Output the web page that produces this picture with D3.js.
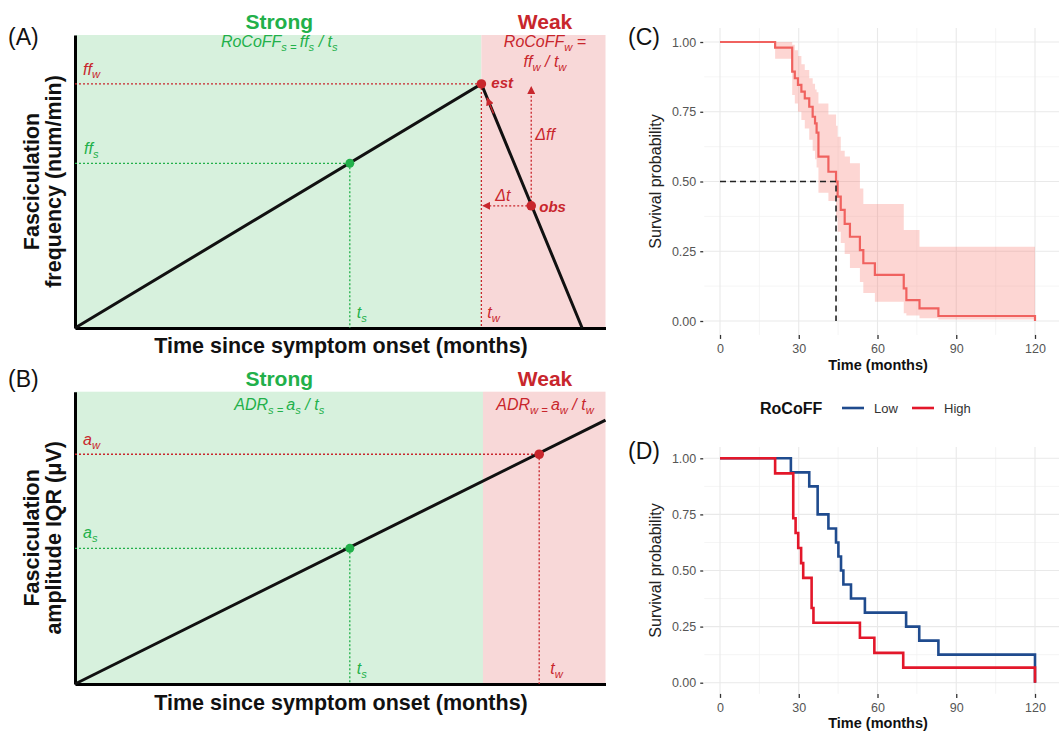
<!DOCTYPE html>
<html>
<head>
<meta charset="utf-8">
<script src="https://cdn.jsdelivr.net/npm/d3@7"></script>
<style>
  body { margin: 0; background: #fff; }
  svg { display: block; font-family: "Liberation Sans", Arial, sans-serif; }
</style>
</head>
<body>
<div id="chart"></div>
<script>
// ---- schematic panels (arbitrary units, 0-100 on both axes) ----
// onset, strong point (ts, ffs), estimated weak point (tw, ffw), observed point, end of decline
const freqTime = [0, 51.8, 76.6, 86.0, 95.6];
const freqValue = [0, 56.2, 83.3, 41.7, 0];
const freqWeakStart = 76.6;

// onset, strong point (ts, as), weak point (tw, aw), right end of line
const ampTime = [0, 51.8, 87.5, 100];
const ampValue = [0, 46.4, 78.6, 90.3];
const ampWeakStart = 76.9;

// ---- panel C: overall Kaplan-Meier curve with 95% band ----
const cTime  = [0, 21, 27.5, 28.5, 29.7, 31, 32.3, 34, 35.3, 36.2, 36.8, 37.5, 41.3, 44.2, 44.8, 46, 47.5, 49.5, 53.3, 54.6, 59, 70, 71, 76, 83.2, 120];
const cSurv  = [1, .98, .894, .87, .846, .822, .798, .768, .732, .708, .675, .589, .535, .50, .446, .398, .348, .302, .254, .207, .165, .117, .075, .045, .018, 0];
const cUpper = [1, 1, .99, .97, .95, .92, .90, .87, .85, .83, .82, .78, .74, .70, .66, .61, .59, .565, .475, .419, .419, .326, .326, .266, .266, .266];
const cLower = [1, .94, .81, .78, .75, .72, .69, .65, .61, .58, .55, .46, .43, .37, .32, .28, .24, .19, .14, .10, .069, .028, .02, .01, .005, 0];
const cMedian = 44.2;

// ---- panel D: Kaplan-Meier by RoCoFF group ----
const lowTime  = [0, 27, 34, 37.2, 41.3, 44.2, 45.1, 46.1, 47, 49.9, 55.2, 70.9, 75.9, 83.2, 120];
const lowSurv  = [1, .9375, .875, .75, .6875, .625, .5625, .5, .4375, .375, .3125, .25, .1875, .125, 0];
const highTime = [0, 21, 27.9, 28.8, 29.8, 30.9, 31.7, 34.9, 35.6, 53.3, 58.8, 69.8, 120];
const highSurv = [1, .933, .733, .667, .6, .533, .467, .333, .267, .2, .133, .067, 0];

const timeTicks = [0, 30, 60, 90, 120];
const timeMinor = [15, 45, 75, 105];
const survTicks = [0, .25, .5, .75, 1];
const survMinor = [.125, .375, .625, .875];

const GREEN = "#22b04a", RED = "#c8262c";
const GREEN_BG = "#d7f1dd", RED_BG = "#f8d8d8";
const KM_SALMON = "#f0625f", LOW_BLUE = "#1f4b8e", HIGH_RED = "#e3172a";

const svg = d3.select("#chart").append("svg")
    .attr("width", 1059).attr("height", 733);

const defs = svg.append("defs");
defs.append("marker")
    .attr("id", "arrRed").attr("viewBox", "0 0 10 10")
    .attr("refX", 9).attr("refY", 5)
    .attr("markerUnits", "userSpaceOnUse")
    .attr("markerWidth", 8).attr("markerHeight", 8)
    .attr("orient", "auto")
  .append("path").attr("d", "M0,0 L10,5 L0,10 z").attr("fill", RED);

// text with subscript parts: [[text, isSub], ...]
function richText(sel, x, y, parts, attrs) {
    const t = sel.append("text").attr("x", x).attr("y", y);
    Object.entries(attrs || {}).forEach(([k, v]) => t.attr(k, v));
    let shifted = 0;
    parts.forEach(([str, sub]) => {
        const ts = t.append("tspan").text(str);
        const want = sub ? 3.5 : 0;
        if (want !== shifted) { ts.attr("dy", want - shifted); shifted = want; }
        if (sub) ts.attr("font-size", "0.7em");
    });
    return t;
}

function panelLetter(x, y, s) {
    svg.append("text").attr("x", x).attr("y", y)
        .attr("font-size", 23).attr("fill", "#111").text(s);
}

// ================= schematic panel builder =================
function schematic(opts) {
    const g = svg.append("g");
    const x = d3.scaleLinear().domain([0, 100]).range([75, 605.5]);
    const y = d3.scaleLinear().domain([0, 100]).range(opts.yRange);

    g.append("rect").attr("x", x(0)).attr("y", y(100))
        .attr("width", x(opts.weakStart) - x(0)).attr("height", y(0) - y(100))
        .attr("fill", GREEN_BG);
    g.append("rect").attr("x", x(opts.weakStart)).attr("y", y(100))
        .attr("width", x(100) - x(opts.weakStart)).attr("height", y(0) - y(100))
        .attr("fill", RED_BG);

    // headings
    g.append("text").attr("x", x(38.5)).attr("y", y(100) - 6)
        .attr("text-anchor", "middle").attr("font-size", 21).attr("font-weight", "bold")
        .attr("fill", GREEN).text("Strong");
    g.append("text").attr("x", x(88.6)).attr("y", y(100) - 6)
        .attr("text-anchor", "middle").attr("font-size", 21).attr("font-weight", "bold")
        .attr("fill", RED).text("Weak");

    // axes (no ticks)
    g.append("g").attr("transform", `translate(0,${y(0)})`)
        .call(d3.axisBottom(x).tickValues([]).tickSizeOuter(0))
        .select(".domain").attr("stroke", "#000").attr("stroke-width", 3);
    g.append("g").attr("transform", `translate(${x(0)},0)`)
        .call(d3.axisLeft(y).tickValues([]).tickSizeOuter(0))
        .select(".domain").attr("stroke", "#000").attr("stroke-width", 3);

    g.append("text").attr("x", 341).attr("y", opts.xLabelY)
        .attr("text-anchor", "middle").attr("font-size", 21.5).attr("font-weight", "bold")
        .attr("fill", "#111").text("Time since symptom onset (months)");
    const yc = (y(0) + y(100)) / 2;
    opts.yLabel.forEach((s, i) => {
        g.append("text").attr("transform", `translate(${39 + i * 22},${yc}) rotate(-90)`)
            .attr("text-anchor", "middle").attr("font-size", 21.5).attr("font-weight", "bold")
            .attr("fill", "#111").text(s);
    });
    return {g, x, y};
}

// ================= Panel A =================
{
    const {g, x, y} = schematic({yRange: [328, 35], weakStart: freqWeakStart, xLabelY: 353,
        yLabel: ["Fasciculation", "frequency (num/min)"]});
    const [t0, ts, tw, tObs, tEnd] = freqTime;
    const [f0, ffs, ffw, fObs, fEnd] = freqValue;

    const dotted = (x1, y1, x2, y2, c, arrow) => {
        const l = g.append("line").attr("x1", x(x1)).attr("y1", y(y1)).attr("x2", x(x2)).attr("y2", y(y2))
            .attr("stroke", c).attr("stroke-width", 1.3).attr("stroke-dasharray", "2,2");
        if (arrow) l.attr("marker-end", "url(#arrRed)");
    };
    dotted(0, ffw, tw, ffw, RED);
    dotted(tw, ffw, tw, 0, RED);
    dotted(0, ffs, ts, ffs, GREEN);
    dotted(ts, ffs, ts, 0, GREEN);
    dotted(tObs, fObs, tObs, ffw - 1, RED, true);
    dotted(tObs, fObs, tw + 0.3, fObs, RED, true);

    const line = d3.line().x(d => x(d[0])).y(d => y(d[1]));
    g.append("path").attr("d", line([[t0, f0], [tw, ffw], [tEnd, fEnd]]))
        .attr("fill", "none").attr("stroke", "#111").attr("stroke-width", 3);
    // red arrowhead on the extrapolated decline pointing to est
    const k = (fEnd - ffw) / (tEnd - tw);
    g.append("line").attr("x1", x(tw + 2.3)).attr("y1", y(ffw + k * 2.3))
        .attr("x2", x(tw + 1.1)).attr("y2", y(ffw + k * 1.1))
        .attr("stroke", RED).attr("stroke-width", 1.5).attr("marker-end", "url(#arrRed)");

    g.append("circle").attr("cx", x(ts)).attr("cy", y(ffs)).attr("r", 4.5).attr("fill", GREEN);
    g.append("circle").attr("cx", x(tw)).attr("cy", y(ffw)).attr("r", 4.8).attr("fill", RED);
    g.append("circle").attr("cx", x(tObs)).attr("cy", y(fObs)).attr("r", 4.8).attr("fill", RED);

    const it = {"font-style": "italic", "font-size": 16};
    richText(g, x(38.5), 47, [["RoCoFF", false], ["s", true], [" = ", true], ["ff", false], ["s", true], [" / ", false], ["t", false], ["s", true]],
        {...it, fill: GREEN, "text-anchor": "middle"});
    richText(g, x(88.6), 47, [["RoCoFF", false], ["w", true], [" =", false]], {...it, fill: RED, "text-anchor": "middle"});
    richText(g, x(88.6), 67, [["ff", false], ["w", true], [" / ", false], ["t", false], ["w", true]], {...it, fill: RED, "text-anchor": "middle"});

    richText(g, x(0) + 8, y(ffw) - 9, [["ff", false], ["w", true]], {...it, fill: RED});
    richText(g, x(0) + 9, y(ffs) - 9, [["ff", false], ["s", true]], {...it, fill: GREEN});
    richText(g, x(ts) + 7, y(0) - 10, [["t", false], ["s", true]], {...it, fill: GREEN});
    richText(g, x(tw) + 6, y(0) - 10, [["t", false], ["w", true]], {...it, fill: RED});

    g.append("text").attr("x", x(tw) + 10).attr("y", y(ffw) + 4).attr("fill", RED)
        .attr("font-weight", "bold").attr("font-style", "italic").attr("font-size", 15).text("est");
    g.append("text").attr("x", x(tObs) + 8).attr("y", y(fObs) + 6).attr("fill", RED)
        .attr("font-weight", "bold").attr("font-style", "italic").attr("font-size", 15).text("obs");
    g.append("text").attr("x", x(tObs) + 4).attr("y", 140).attr("fill", RED)
        .attr("font-style", "italic").attr("font-size", 16).text("Δff");
    g.append("text").attr("x", x(tw) + 14).attr("y", y(fObs) - 5).attr("fill", RED)
        .attr("font-style", "italic").attr("font-size", 16).text("Δt");
}

// ================= Panel B =================
{
    const {g, x, y} = schematic({yRange: [684, 391.7], weakStart: ampWeakStart, xLabelY: 710,
        yLabel: ["Fasciculation", "amplitude IQR (μV)"]});
    const [t0, ts, tw, tEnd] = ampTime;
    const [a0, as, aw, aEnd] = ampValue;

    const dotted = (x1, y1, x2, y2, c) => g.append("line")
        .attr("x1", x(x1)).attr("y1", y(y1)).attr("x2", x(x2)).attr("y2", y(y2))
        .attr("stroke", c).attr("stroke-width", 1.3).attr("stroke-dasharray", "2,2");
    dotted(0, aw, tw, aw, RED);
    dotted(tw, aw, tw, 0, RED);
    dotted(0, as, ts, as, GREEN);
    dotted(ts, as, ts, 0, GREEN);

    g.append("line").attr("x1", x(t0)).attr("y1", y(a0)).attr("x2", x(tEnd)).attr("y2", y(aEnd))
        .attr("stroke", "#111").attr("stroke-width", 3);
    g.append("circle").attr("cx", x(ts)).attr("cy", y(as)).attr("r", 4.5).attr("fill", GREEN);
    g.append("circle").attr("cx", x(tw)).attr("cy", y(aw)).attr("r", 4.8).attr("fill", RED);

    const it = {"font-style": "italic", "font-size": 16};
    richText(g, x(38.5), 410, [["ADR", false], ["s", true], [" = ", true], ["a", false], ["s", true], [" / ", false], ["t", false], ["s", true]],
        {...it, fill: GREEN, "text-anchor": "middle"});
    richText(g, x(88.6), 410, [["ADR", false], ["w", true], [" = ", true], ["a", false], ["w", true], [" / ", false], ["t", false], ["w", true]],
        {...it, fill: RED, "text-anchor": "middle"});
    richText(g, x(0) + 8, y(aw) - 9, [["a", false], ["w", true]], {...it, fill: RED});
    richText(g, x(0) + 8, y(as) - 10, [["a", false], ["s", true]], {...it, fill: GREEN});
    richText(g, x(ts) + 7, y(0) - 10, [["t", false], ["s", true]], {...it, fill: GREEN});
    richText(g, x(tw) + 11, y(0) - 10, [["t", false], ["w", true]], {...it, fill: RED});
}

panelLetter(8, 45, "(A)");
panelLetter(8, 387, "(B)");

// ================= survival panels =================
const xT = d3.scaleLinear().domain([0, 120]).range([720, 1035]);

function survivalFrame(yScale, titleY) {
    const g = svg.append("g");
    const x0 = xT(-6), x1 = 1059;
    const yTop = yScale(1.05), yBot = yScale(-0.05);
    timeMinor.forEach(t => g.append("line").attr("x1", xT(t)).attr("x2", xT(t)).attr("y1", yTop).attr("y2", yBot)
        .attr("stroke", "#f2f2f2").attr("stroke-width", 0.8));
    survMinor.forEach(s => g.append("line").attr("x1", x0).attr("x2", x1).attr("y1", yScale(s)).attr("y2", yScale(s))
        .attr("stroke", "#f2f2f2").attr("stroke-width", 0.8));
    timeTicks.forEach(t => g.append("line").attr("x1", xT(t)).attr("x2", xT(t)).attr("y1", yTop).attr("y2", yBot)
        .attr("stroke", "#e9e9e9").attr("stroke-width", 1.1));
    survTicks.forEach(s => g.append("line").attr("x1", x0).attr("x2", x1).attr("y1", yScale(s)).attr("y2", yScale(s))
        .attr("stroke", "#e9e9e9").attr("stroke-width", 1.1));

    const ya = g.append("g").attr("transform", `translate(${x0 - 1},0)`)
        .call(d3.axisLeft(yScale).tickValues(survTicks).tickFormat(d3.format(".2f")).tickSize(3).tickPadding(4));
    const xa = g.append("g").attr("transform", `translate(0,${yBot})`)
        .call(d3.axisBottom(xT).tickValues(timeTicks).tickSize(4).tickPadding(5));
    [ya, xa].forEach(a => {
        a.select(".domain").remove();
        a.selectAll(".tick line").attr("stroke", "#333").attr("stroke-width", 1.3);
        a.selectAll(".tick text").attr("fill", "#555").attr("font-size", 12.5)
            .attr("font-family", "Liberation Sans, Arial, sans-serif");
    });

    g.append("text").attr("x", 878).attr("y", titleY).attr("text-anchor", "middle")
        .attr("font-size", 14.5).attr("font-weight", "bold").attr("fill", "#111").text("Time (months)");
    g.append("text").attr("transform", `translate(661,${(yScale(0) + yScale(1)) / 2}) rotate(-90)`)
        .attr("text-anchor", "middle").attr("font-size", 16).attr("fill", "#222").text("Survival probability");
    return g;
}

// Panel C
{
    const y = d3.scaleLinear().domain([0, 1]).range([321, 42]);
    const g = survivalFrame(y, 369.5);
    const rows = cTime.map((t, i) => ({t, s: cSurv[i], lo: cLower[i], hi: cUpper[i]}));
    g.append("path").datum(rows)
        .attr("d", d3.area().curve(d3.curveStepAfter).x(d => xT(d.t)).y0(d => y(d.lo)).y1(d => y(d.hi)))
        .attr("fill", "#F8766D").attr("fill-opacity", 0.3);
    g.append("path").datum(rows)
        .attr("d", d3.line().curve(d3.curveStepAfter).x(d => xT(d.t)).y(d => y(d.s)))
        .attr("fill", "none").attr("stroke", KM_SALMON).attr("stroke-width", 2.2);
    g.append("path").datum([[0, .5], [cMedian, .5], [cMedian, 0]])
        .attr("d", d3.line().x(d => xT(d[0])).y(d => y(d[1])))
        .attr("fill", "none").attr("stroke", "#222").attr("stroke-width", 1.6).attr("stroke-dasharray", "6,4");
}

// Panel D
{
    const y = d3.scaleLinear().domain([0, 1]).range([682.7, 458.3]);
    const g = survivalFrame(y, 728);
    const step = d3.line().curve(d3.curveStepAfter).x(d => xT(d[0])).y(d => y(d[1]));
    g.append("path").attr("d", step(lowTime.map((t, i) => [t, lowSurv[i]])))
        .attr("fill", "none").attr("stroke", LOW_BLUE).attr("stroke-width", 2.6);
    g.append("path").attr("d", step(highTime.map((t, i) => [t, highSurv[i]])))
        .attr("fill", "none").attr("stroke", HIGH_RED).attr("stroke-width", 2.6);

    // legend
    const ly = 408;
    g.append("text").attr("x", 760).attr("y", ly + 5.5).attr("font-size", 16).attr("font-weight", "bold")
        .attr("fill", "#111").text("RoCoFF");
    [["Low", LOW_BLUE, 842], ["High", HIGH_RED, 912]].forEach(([lab, c, lx]) => {
        g.append("line").attr("x1", lx).attr("x2", lx + 22).attr("y1", ly).attr("y2", ly)
            .attr("stroke", c).attr("stroke-width", 2.6);
        g.append("text").attr("x", lx + 32).attr("y", ly + 5).attr("font-size", 13).attr("fill", "#333").text(lab);
    });
}

panelLetter(628, 45, "(C)");
panelLetter(628, 459, "(D)");
</script>
</body>
</html>
